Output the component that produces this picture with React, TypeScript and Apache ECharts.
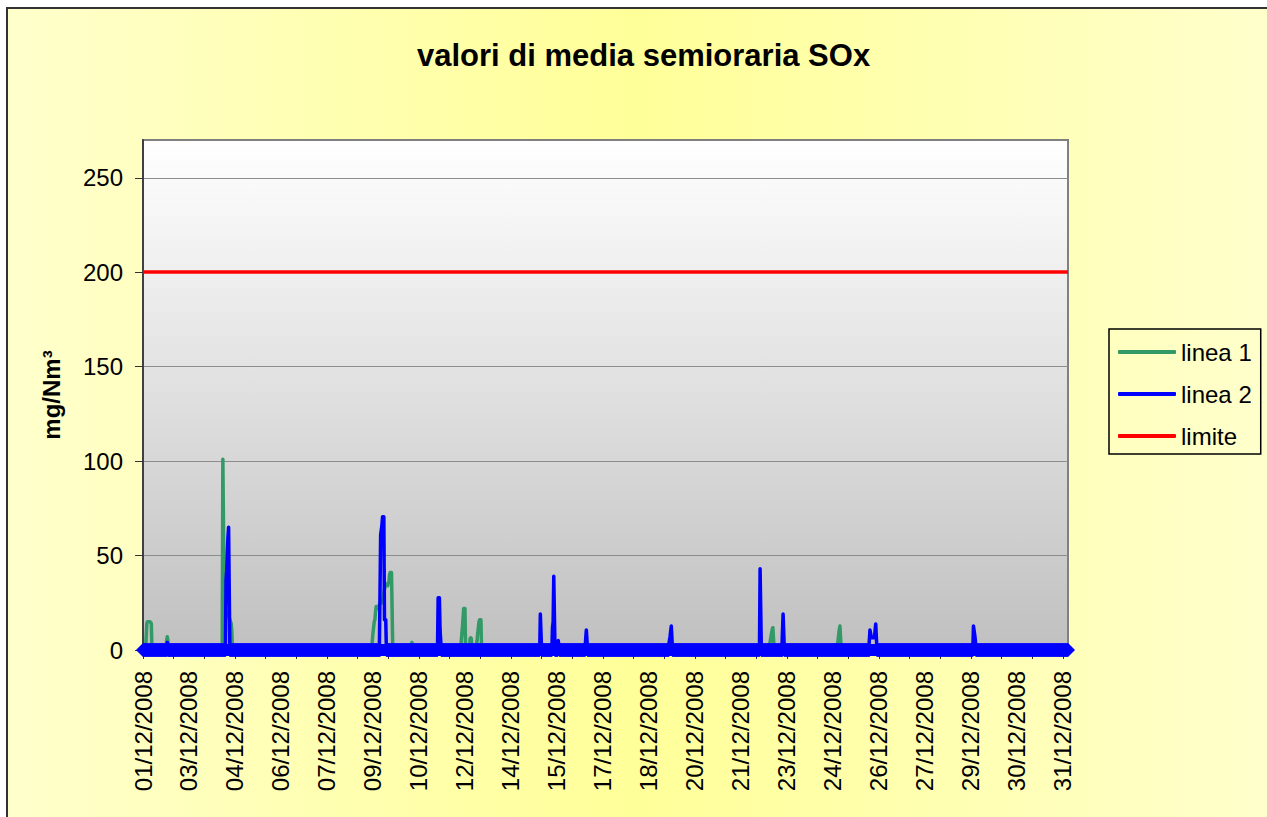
import React, { useEffect, useRef } from "react";
import * as echarts from "echarts";

// ---- data ----
// half-hour slots on the category axis
const N_SLOTS = 1449;
const LABEL_STEP = 72; // slots between two date labels
const TICK_STEP = 48; // slots between two ticks (one day)
const TICK_LABELS = [
  "01/12/2008", "03/12/2008", "04/12/2008", "06/12/2008", "07/12/2008",
  "09/12/2008", "10/12/2008", "12/12/2008", "14/12/2008", "15/12/2008",
  "17/12/2008", "18/12/2008", "20/12/2008", "21/12/2008", "23/12/2008",
  "24/12/2008", "26/12/2008", "27/12/2008", "29/12/2008", "30/12/2008",
  "31/12/2008",
];
const Y_TICKS = [0, 50, 100, 150, 200, 250];
const LIMIT = 200;
const BASELINE = 0;

// non-zero readings [slot, value]; every other slot reads 0
const LINEA1_PEAKS: [number, number][] = [
  [6, 14], [7, 15], [8, 15], [9, 15], [10, 15], [11, 15], [12, 15], [13, 14],
  [37, 5], [38, 7], [39, 5],
  [125, 101], [126, 101], [127, 30], [128, 22], [129, 20], [130, 20], [131, 20],
  [132, 20], [133, 19], [134, 18], [135, 17], [136, 16], [137, 15], [138, 14], [139, 10],
  [359, 5], [360, 9], [361, 12], [362, 15], [363, 16], [364, 20], [365, 23], [366, 23],
  [367, 22], [368, 22], [369, 23], [370, 24], [371, 24], [372, 25], [373, 25], [374, 25],
  [375, 26], [376, 28], [377, 30], [378, 32], [379, 34], [380, 35], [381, 35], [382, 35],
  [383, 34], [384, 35.5], [385, 36], [386, 40], [387, 41], [388, 41], [389, 41], [390, 41],
  [420, 3], [421, 4], [422, 3],
  [499, 8], [500, 12], [501, 17], [502, 22], [503, 22], [504, 22],
  [512, 6], [513, 6.5], [514, 6],
  [523, 5], [524, 9], [525, 12], [526, 15], [527, 16], [528, 16], [529, 16],
  [981, 3], [982, 5], [983, 7], [984, 9], [985, 11], [986, 11.8], [987, 11.8],
  [1087, 3], [1088, 5], [1089, 8], [1090, 11], [1091, 12.7], [1092, 12.7],
];
const LINEA2_PEAKS: [number, number][] = [
  [38, 4],
  [130, 37], [131, 42], [132, 52], [133, 60], [134, 65], [135, 65],
  [372, 61], [373, 61], [374, 66], [375, 70.6], [376, 70.6], [377, 70.6],
  [378, 16], [379, 16], [380, 16],
  [462, 27.7], [463, 27.7], [464, 27.7], [465, 10.6], [466, 10.6],
  [622, 19], [623, 19],
  [641, 12], [642, 15], [643, 39], [644, 39],
  [650, 5], [651, 5],
  [693, 6], [694, 10.6], [695, 10.6],
  [824, 5], [825, 7], [826, 10], [827, 12.7], [828, 12.7],
  [966, 43], [967, 43],
  [1002, 19], [1003, 19],
  [1138, 10.6], [1139, 10.6], [1140, 7], [1141, 6.5], [1142, 6.5], [1143, 6.5],
  [1144, 6.5], [1145, 6.5], [1146, 6.5], [1147, 13.8], [1148, 13.8],
  [1300, 12.7], [1301, 12.7], [1302, 8], [1303, 5],
];

const CATEGORIES = Array.from({ length: N_SLOTS }, (_, i) => String(i));

function toSeries(peaks: [number, number][]): number[] {
  const out = new Array(N_SLOTS).fill(0);
  peaks.forEach(([i, v]) => {
    out[i] = v;
  });
  return out;
}

const LINEA1 = toSeries(LINEA1_PEAKS);
const LINEA2 = toSeries(LINEA2_PEAKS);

const FONT = "'Liberation Sans', Arial, sans-serif";

export default function App() {
  const ref = useRef<HTMLDivElement>(null);

  useEffect(() => {
    if (!ref.current) return;
    const chart = echarts.init(ref.current, undefined, { renderer: "svg" });

    const linea2Data = LINEA2.map((v) =>
      v === 0 ? v : { value: v, symbol: "none" }
    );

    chart.setOption({
      animation: false,
      backgroundColor: "transparent",
      title: {
        text: "valori di media semioraria SOx",
        left: 412,
        top: 35,
        textStyle: {
          fontFamily: FONT,
          fontSize: 31,
          fontWeight: "bold",
          color: "#000",
        },
      },
      legend: {
        orient: "vertical",
        left: 1109,
        top: 329,
        itemWidth: 58,
        itemHeight: 4,
        itemGap: 18,
        padding: [11, 9, 6, 9],
        borderColor: "#000",
        borderWidth: 1.5,
        backgroundColor: "transparent",
        selectedMode: false,
        textStyle: { fontFamily: FONT, fontSize: 24, color: "#000" },
        data: [
          { name: "linea 1", icon: "roundRect" },
          { name: "linea 2", icon: "roundRect" },
          { name: "limite", icon: "roundRect" },
        ],
      },
      grid: {
        left: 143,
        top: 140,
        width: 925,
        height: 510,
        show: true,
        borderColor: "#808080",
        borderWidth: 2,
        backgroundColor: {
          type: "linear",
          x: 0,
          y: 0,
          x2: 0,
          y2: 1,
          colorStops: [
            { offset: 0, color: "#FFFFFF" },
            { offset: 1, color: "#C0C0C0" },
          ],
        },
      },
      xAxis: {
        type: "category",
        data: CATEGORIES,
        boundaryGap: false,
        axisLine: { show: true, lineStyle: { color: "#333", width: 2 } },
        axisTick: {
          show: true,
          interval: TICK_STEP - 1,
          length: 9,
          lineStyle: { color: "#333", width: 1 },
        },
        axisLabel: {
          interval: LABEL_STEP - 1,
          rotate: 90,
          margin: 21,
          fontFamily: FONT,
          fontSize: 24,
          color: "#000",
          formatter: (_v: string, idx: number) =>
            idx % LABEL_STEP === 0 ? TICK_LABELS[idx / LABEL_STEP] ?? "" : "",
        },
        splitLine: { show: false },
      },
      yAxis: {
        type: "value",
        min: 0,
        max: 270,
        interval: 50,
        name: "mg/Nm³",
        nameLocation: "middle",
        nameGap: 80,
        nameTextStyle: {
          fontFamily: FONT,
          fontSize: 24,
          fontWeight: "bold",
          color: "#000",
        },
        axisLine: { show: true, lineStyle: { color: "#404040", width: 2 } },
        axisTick: {
          show: true,
          length: 8,
          customValues: Y_TICKS,
          lineStyle: { color: "#333", width: 1 },
        },
        axisLabel: {
          margin: 20,
          fontFamily: FONT,
          fontSize: 24,
          color: "#000",
          customValues: Y_TICKS,
        },
        splitLine: { show: true, lineStyle: { color: "#8C8C8C", width: 1 } },
      },
      series: [
        {
          name: "linea 1",
          type: "line",
          data: LINEA1,
          symbol: "none",
          silent: true,
          clip: false,
          z: 2,
          lineStyle: { color: "#339966", width: 3.5, cap: "round", join: "round" },
          itemStyle: { color: "#339966" },
        },
        {
          name: "linea 2",
          type: "line",
          data: linea2Data,
          symbol: "diamond",
          symbolSize: 14,
          showSymbol: true,
          showAllSymbol: true,
          silent: true,
          clip: false,
          z: 3,
          lineStyle: { color: "#0000FF", width: 3.5, cap: "round", join: "round" },
          itemStyle: { color: "#0000FF", borderWidth: 0 },
          markLine: {
            silent: true,
            symbol: ["none", "none"],
            label: { show: false },
            lineStyle: { color: "#0000FF", width: 12, type: "solid" },
            data: [{ yAxis: BASELINE }],
          },
        },
        {
          name: "limite",
          type: "line",
          data: [],
          symbol: "none",
          z: 4,
          lineStyle: { color: "#FF0000", width: 3.5 },
          itemStyle: { color: "#FF0000" },
          markLine: {
            silent: true,
            symbol: ["none", "none"],
            label: { show: false },
            lineStyle: { color: "#FF0000", width: 3.5, type: "solid" },
            data: [{ yAxis: LIMIT }],
          },
        },
      ],
    });

    return () => chart.dispose();
  }, []);

  return (
    <div
      style={{
        position: "fixed",
        left: 0,
        top: 0,
        width: 1267,
        height: 817,
        background: "#fff",
        overflow: "hidden",
      }}
    >
      <div
        style={{
          position: "absolute",
          left: 6,
          top: 7,
          right: 0,
          bottom: 0,
          borderLeft: "2px solid #333",
          borderTop: "2px solid #333",
          background:
            "linear-gradient(to right, #FFFFCC 0%, #FFFF99 50%, #FFFFCC 100%)",
        }}
      />
      <div
        ref={ref}
        style={{ position: "absolute", left: 0, top: 0, width: 1267, height: 817 }}
      />
    </div>
  );
}
